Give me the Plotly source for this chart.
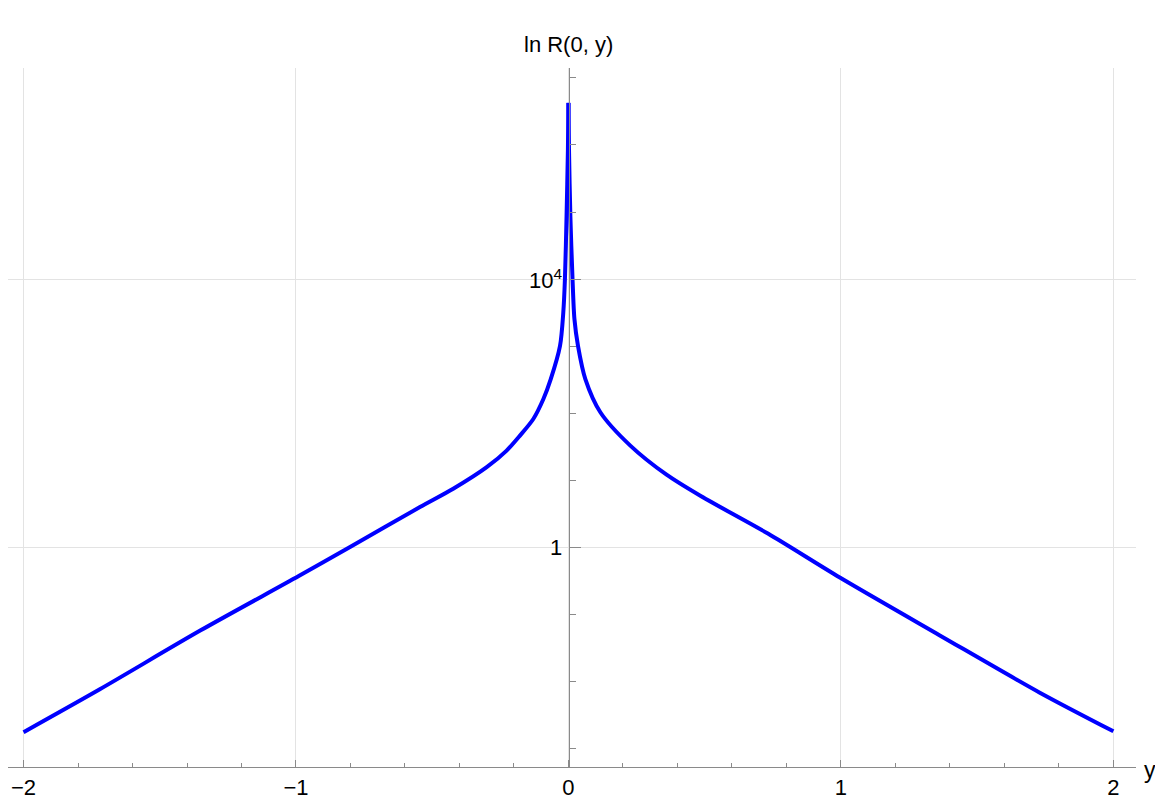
import plotly.graph_objects as go

# values (log-scale y)
y_left = [-2.0, -1.72, -1.35, -0.99, -0.80, -0.545, -0.423, -0.300, -0.227, -0.178,
          -0.129, -0.092, -0.065, -0.031, -0.019, -0.013, -0.007, -0.002, 0.0]
r_left = [1.78e-3, 7.76e-3, 0.0585, 0.377, 1.03, 4.02, 7.53, 15.8, 27.9, 46.7,
          82.6, 164, 324, 1014, 3178, 9930, 8.67e4, 8.49e5, 4.24e6]

y_right = [0.0, 0.002, 0.007, 0.015, 0.022, 0.035, 0.062, 0.117, 0.227, 0.36, 0.487,
           0.732, 0.996, 1.363, 1.730, 2.0]
r_right = [4.24e6, 8.49e5, 8.67e4, 9930, 2529, 1014, 324, 104, 33.1, 12.2, 5.82,
           1.62, 0.358, 0.0492, 6.89e-3, 1.83e-3]

x_ticks = [-2, -1, 0, 1, 2]
x_labels = ["\u22122", "\u22121", "0", "1", "2"]
y_major = [1, 1e4]
y_major_labels = ["1", "10<sup>4</sup>"]
y_minor = [1e-3, 1e-2, 1e-1, 10, 100, 1000, 1e5, 1e6, 1e7]

FONT = "Liberation Sans, Arial, sans-serif"
AXIS = "#8a8a8a"
GRID = "#e3e3e3"

fig = go.Figure()
for xs, rs in [(y_left, r_left), (y_right, r_right)]:
    fig.add_trace(go.Scatter(x=xs, y=rs, mode="lines",
                             line=dict(color="#0000ff", width=4, shape="spline", smoothing=0.8),
                             showlegend=False))

fig.update_layout(
    width=1155, height=792,
    margin=dict(l=0, r=27, t=60, b=31),
    paper_bgcolor="white", plot_bgcolor="white",
    font=dict(family=FONT, size=22, color="black"),
    xaxis=dict(
        range=[-2.057, 2.083], zeroline=False,
        showline=True, linecolor=AXIS, linewidth=1.2,
        tickmode="array", tickvals=x_ticks, ticktext=x_labels,
        ticks="inside", ticklen=7, tickcolor=AXIS, tickwidth=1,
        showgrid=True, gridcolor=GRID, gridwidth=1,
        minor=dict(dtick=0.2, tick0=0, ticks="inside", ticklen=4,
                   tickcolor=AXIS, showgrid=False),
    ),
    yaxis=dict(
        type="log", range=[-3.269, 7.147],
        anchor="free", position=0.4969, zeroline=False,
        showline=True, linecolor=AXIS, linewidth=1.2,
        tickmode="array", tickvals=y_major, showticklabels=False,
        ticks="inside", ticklen=11, tickcolor=AXIS, tickwidth=1,
        showgrid=True, gridcolor=GRID, gridwidth=1,
        minor=dict(tickmode="array", tickvals=y_minor, ticks="inside",
                   ticklen=6, tickcolor=AXIS, showgrid=False),
    ),
)

# y tick labels left of the axis line
for val, lab in zip(y_major, y_major_labels):
    fig.add_annotation(x=0.493, xref="paper", xanchor="right",
                       y=len(str(int(val))) - 1, yref="y", yanchor="middle",
                       text=lab, showarrow=False)

fig.add_annotation(x=0.0, xref="x", xanchor="center", y=1.034, yref="paper", yanchor="middle",
                   text="ln R(0, y)", showarrow=False, font=dict(size=22))
fig.add_annotation(x=1.0195, xref="paper", xanchor="right", y=-0.0043, yref="paper",
                   yanchor="middle", text="y", showarrow=False, font=dict(size=23))

fig.write_html("out.html")
